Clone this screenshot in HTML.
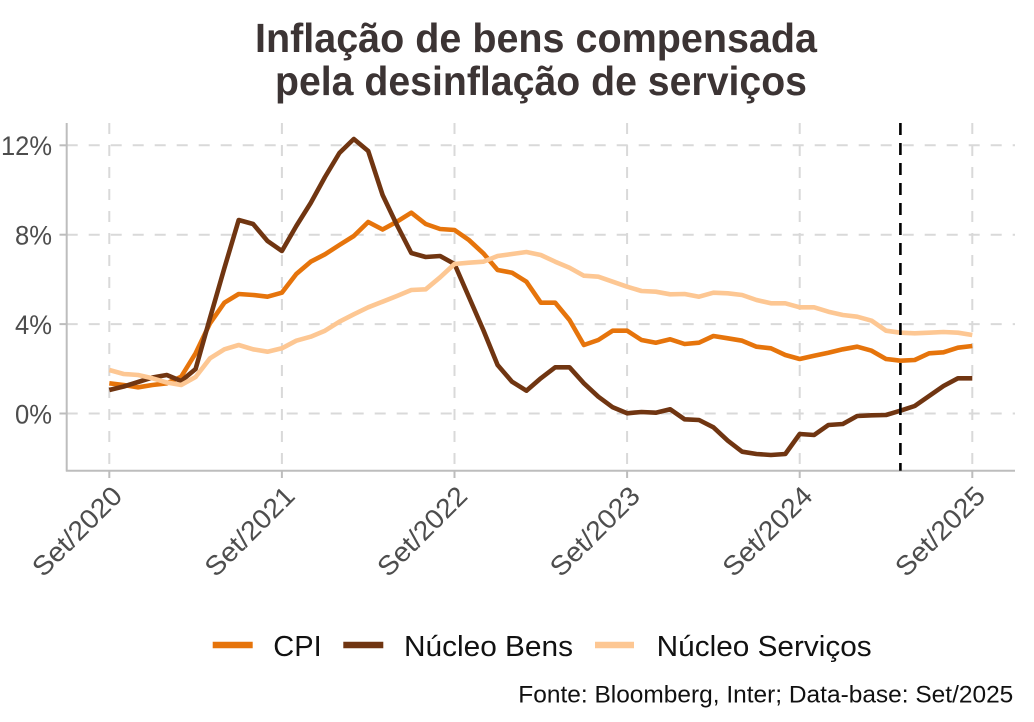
<!DOCTYPE html>
<html>
<head>
<meta charset="utf-8">
<style>
  html, body { margin: 0; padding: 0; background: #ffffff; }
  svg { display: block; }
  text { font-family: "Liberation Sans", "DejaVu Sans", sans-serif; }
</style>
</head>
<body>
<svg width="1034" height="722" viewBox="0 0 1034 722" xmlns="http://www.w3.org/2000/svg">
  <rect x="0" y="0" width="1034" height="722" fill="#ffffff"/>

  <!-- Title -->
  <text x="255" y="52" font-size="41" font-weight="bold" fill="#3c3434" textLength="562" lengthAdjust="spacingAndGlyphs">Inflação de bens compensada</text>
  <text x="275" y="95" font-size="41" font-weight="bold" fill="#3c3434" textLength="532" lengthAdjust="spacingAndGlyphs">pela desinflação de serviços</text>

  <!-- Grid -->
  <g stroke="#d9d9d9" stroke-width="2" stroke-dasharray="11 11" fill="none">
    <line x1="66.7" y1="145.3" x2="1015" y2="145.3"/>
    <line x1="66.7" y1="234.7" x2="1015" y2="234.7"/>
    <line x1="66.7" y1="324.1" x2="1015" y2="324.1"/>
    <line x1="66.7" y1="413.5" x2="1015" y2="413.5"/>
    <line x1="109.3" y1="123" x2="109.3" y2="470"/>
    <line x1="281.9" y1="123" x2="281.9" y2="470"/>
    <line x1="454.5" y1="123" x2="454.5" y2="470"/>
    <line x1="627.1" y1="123" x2="627.1" y2="470"/>
    <line x1="799.7" y1="123" x2="799.7" y2="470"/>
    <line x1="972.3" y1="123" x2="972.3" y2="470"/>
  </g>

  <!-- Axes -->
  <g stroke="#bdbdbd" stroke-width="2" fill="none">
    <line x1="66.7" y1="123" x2="66.7" y2="471.5"/>
    <line x1="66" y1="470.7" x2="1015" y2="470.7"/>
    <line x1="59.5" y1="145.3" x2="66.7" y2="145.3"/>
    <line x1="59.5" y1="234.7" x2="66.7" y2="234.7"/>
    <line x1="59.5" y1="324.1" x2="66.7" y2="324.1"/>
    <line x1="59.5" y1="413.5" x2="66.7" y2="413.5"/>
    <line x1="109.3" y1="470.7" x2="109.3" y2="478"/>
    <line x1="281.9" y1="470.7" x2="281.9" y2="478"/>
    <line x1="454.5" y1="470.7" x2="454.5" y2="478"/>
    <line x1="627.1" y1="470.7" x2="627.1" y2="478"/>
    <line x1="799.7" y1="470.7" x2="799.7" y2="478"/>
    <line x1="972.3" y1="470.7" x2="972.3" y2="478"/>
  </g>

  <!-- Y labels -->
  <g font-size="27" fill="#4d4d4d" text-anchor="end">
    <text x="52" y="155" textLength="51" lengthAdjust="spacingAndGlyphs">12%</text>
    <text x="52" y="244.5" textLength="37" lengthAdjust="spacingAndGlyphs">8%</text>
    <text x="52" y="334" textLength="37" lengthAdjust="spacingAndGlyphs">4%</text>
    <text x="52" y="423.3" textLength="37" lengthAdjust="spacingAndGlyphs">0%</text>
  </g>

  <!-- X labels -->
  <g font-size="27" fill="#4d4d4d" text-anchor="end">
    <text transform="translate(123.8,497.5) rotate(-45)" textLength="114" lengthAdjust="spacingAndGlyphs">Set/2020</text>
    <text transform="translate(296.4,497.5) rotate(-45)" textLength="114" lengthAdjust="spacingAndGlyphs">Set/2021</text>
    <text transform="translate(469,497.5) rotate(-45)" textLength="114" lengthAdjust="spacingAndGlyphs">Set/2022</text>
    <text transform="translate(641.6,497.5) rotate(-45)" textLength="114" lengthAdjust="spacingAndGlyphs">Set/2023</text>
    <text transform="translate(814.2,497.5) rotate(-45)" textLength="114" lengthAdjust="spacingAndGlyphs">Set/2024</text>
    <text transform="translate(986.8,497.5) rotate(-45)" textLength="114" lengthAdjust="spacingAndGlyphs">Set/2025</text>
  </g>

  <!-- Series -->
  <g fill="none" stroke-width="4.6" stroke-linejoin="round" stroke-linecap="butt">
    <polyline stroke="#e6740b" points="109.3,383.3 123.7,385 138.1,387.3 152.4,385 166.8,383.3 181.2,376.7 195.6,353.3 210,323.3 224.4,302.7 238.7,294 253.1,295 267.5,296.7 281.9,292.7 296.3,274 310.7,261.7 325,254.3 339.4,245 353.8,236 368.2,222 382.6,229.5 396.9,221.7 411.3,212.7 425.7,224 440.1,229 454.5,230 468.9,240 483.3,253.3 497.6,270 512,272.7 526.4,281.7 540.8,302.7 555.2,302.7 569.5,320 583.9,345 598.3,340 612.7,330.7 627.1,330.7 641.5,340 655.8,342.7 670.2,339.3 684.6,344 699,342.7 713.4,336 727.8,338.3 742.1,340.7 756.5,346.7 770.9,348.3 785.3,355 799.7,359 814.1,355.7 828.4,352.7 842.8,349.3 857.2,346.7 871.6,350.7 886,359 900.4,360.7 914.7,360 929.1,353.3 943.5,352.3 957.9,347.7 972.3,346"/>
    <polyline stroke="#703511" points="109.3,390 123.7,386.5 138.1,382 152.4,377.5 166.8,375 181.2,381 195.6,369 210,318 224.4,268 238.7,220 253.1,224 267.5,241 281.9,251 296.3,226 310.7,203 325,177 339.4,153 353.8,139 368.2,151 382.6,195 396.9,225 411.3,253 425.7,257 440.1,256 454.5,264 468.9,297 483.3,330 497.6,365 512,381.7 526.4,390.7 540.8,378.3 555.2,367.3 569.5,367.3 583.9,383.3 598.3,396.7 612.7,407.3 627.1,413.3 641.5,412 655.8,412.7 670.2,409.3 684.6,419.3 699,420 713.4,427.3 727.8,440.7 742.1,451.7 756.5,454 770.9,455 785.3,454 799.7,434 814.1,435 828.4,425 842.8,424 857.2,416 871.6,415.3 886,415 900.4,410.7 914.7,406 929.1,396 943.5,386 957.9,378.3 972.3,378.3"/>
    <polyline stroke="#fdc793" points="109.3,370 123.7,374 138.1,375 152.4,378.3 166.8,382.5 181.2,385 195.6,377 210,358.3 224.4,349.3 238.7,345 253.1,349.3 267.5,351.7 281.9,348.3 296.3,340.7 310.7,336.7 325,330.7 339.4,321.7 353.8,314.3 368.2,307.3 382.6,301.7 396.9,296 411.3,290 425.7,289.3 440.1,277.3 454.5,264 468.9,262.7 483.3,261.7 497.6,256 512,254 526.4,252 540.8,255 555.2,261.7 569.5,267.7 583.9,275.7 598.3,276.7 612.7,281.7 627.1,286.7 641.5,291 655.8,291.7 670.2,294.3 684.6,294 699,296.7 713.4,292.7 727.8,293.3 742.1,295 756.5,300 770.9,303.3 785.3,303.3 799.7,307.3 814.1,307.3 828.4,311.7 842.8,315 857.2,316.7 871.6,320.7 886,330.7 900.4,332.7 914.7,333.3 929.1,332.7 943.5,332 957.9,332.7 972.3,335"/>
  </g>

  <!-- Vertical dashed marker -->
  <line x1="900.4" y1="123" x2="900.4" y2="470.7" stroke="#000000" stroke-width="2.6" stroke-dasharray="12 8"/>

  <!-- Legend -->
  <g stroke-width="6.5">
    <line x1="212.7" y1="645" x2="252.7" y2="645" stroke="#e6740b"/>
    <line x1="343.3" y1="645" x2="383.3" y2="645" stroke="#703511"/>
    <line x1="595" y1="645" x2="634" y2="645" stroke="#fdc793"/>
  </g>
  <g font-size="29" fill="#111111">
    <text x="273.3" y="656" textLength="48.4" lengthAdjust="spacingAndGlyphs">CPI</text>
    <text x="404" y="656" textLength="169" lengthAdjust="spacingAndGlyphs">Núcleo Bens</text>
    <text x="656.7" y="656" textLength="215" lengthAdjust="spacingAndGlyphs">Núcleo Serviços</text>
  </g>

  <!-- Source -->
  <text x="518.3" y="702.7" font-size="24.5" fill="#111111" textLength="495" lengthAdjust="spacingAndGlyphs">Fonte: Bloomberg, Inter; Data-base: Set/2025</text>
</svg>
</body>
</html>
